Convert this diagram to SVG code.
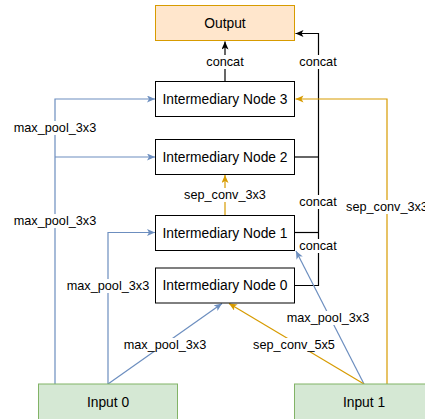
<svg xmlns="http://www.w3.org/2000/svg" width="425" height="419" viewBox="0 0 425 419">
<style>
.node{fill:#fff;stroke:#000;stroke-width:1}
.out{fill:#ffe6cc;stroke:#d79b00;stroke-width:1}
.in{fill:#d5e8d4;stroke:#82b366;stroke-width:1}
.nt{font-family:"Liberation Sans",Arial,sans-serif;font-size:13.8px;fill:#000;text-anchor:middle}
.lt{font-family:"Liberation Sans",Arial,sans-serif;font-size:12.7px;fill:#000;text-anchor:middle}
.bg{fill:#fff}
.k{fill:none;stroke:#000;stroke-width:1.2}
.b{fill:none;stroke:#6c8ebf;stroke-width:1.2}
.o{fill:none;stroke:#d79b00;stroke-width:1.2}
</style>
<defs>
<marker id="ak" markerUnits="userSpaceOnUse" markerWidth="10" markerHeight="10" refX="8" refY="3.5" orient="auto"><path d="M0,0 L8,3.5 L0,7 L2,3.5 Z" fill="#000"/></marker>
<marker id="ab" markerUnits="userSpaceOnUse" markerWidth="10" markerHeight="10" refX="8" refY="3.5" orient="auto"><path d="M0,0 L8,3.5 L0,7 L2,3.5 Z" fill="#6c8ebf"/></marker>
<marker id="ao" markerUnits="userSpaceOnUse" markerWidth="10" markerHeight="10" refX="8" refY="3.5" orient="auto"><path d="M0,0 L8,3.5 L0,7 L2,3.5 Z" fill="#d79b00"/></marker>
</defs>
<g id="connectors">
<path class="k" d="M225,81 V41.5" marker-end="url(#ak)"/>
<path class="k" d="M295,285.5 H318.5 V33.5 H295.5" marker-end="url(#ak)"/>
<path class="k" d="M295,157 H318.5"/>
<path class="k" d="M295,232.5 H318.5"/>
<path class="b" d="M55,384 V99 H155" marker-end="url(#ab)"/>
<path class="b" d="M55,157 H155" marker-end="url(#ab)"/>
<path class="b" d="M108,384 V232.5 H155" marker-end="url(#ab)"/>
<path class="b" d="M108,384 L222,303.5" marker-end="url(#ab)"/>
<path class="b" d="M364,384 L296,251" marker-end="url(#ab)"/>
<path class="o" d="M387,384 V99 H295.5" marker-end="url(#ao)"/>
<path class="o" d="M225,215 V175" marker-end="url(#ao)"/>
<path class="o" d="M364,384 L229,303.5" marker-end="url(#ao)"/>
<g id="labels">
<rect class="bg" x="206" y="55" width="38" height="14"/><text class="lt" x="225" y="62" dy="0.35em">concat</text>
<rect class="bg" x="299" y="55" width="38" height="14"/><text class="lt" x="318" y="62" dy="0.35em">concat</text>
<rect class="bg" x="299" y="195" width="38" height="14"/><text class="lt" x="318" y="202" dy="0.35em">concat</text>
<rect class="bg" x="299" y="239" width="38" height="14"/><text class="lt" x="318" y="246" dy="0.35em">concat</text>
<rect class="bg" x="13" y="121" width="84" height="14"/><text class="lt" x="55" y="128" dy="0.35em">max_pool_3x3</text>
<rect class="bg" x="13" y="214" width="84" height="14"/><text class="lt" x="55" y="221" dy="0.35em">max_pool_3x3</text>
<rect class="bg" x="66" y="279" width="84" height="14"/><text class="lt" x="108" y="286" dy="0.35em">max_pool_3x3</text>
<rect class="bg" x="123" y="338" width="84" height="14"/><text class="lt" x="165" y="345" dy="0.35em">max_pool_3x3</text>
<rect class="bg" x="286" y="311" width="84" height="14"/><text class="lt" x="328" y="318" dy="0.35em">max_pool_3x3</text>
<rect class="bg" x="184" y="188" width="83" height="14"/><text class="lt" x="225" y="195" dy="0.35em">sep_conv_3x3</text>
<rect class="bg" x="346" y="200" width="83" height="14"/><text class="lt" x="387" y="207" dy="0.35em">sep_conv_3x3</text>
<rect class="bg" x="253" y="338" width="83" height="14"/><text class="lt" x="294" y="345" dy="0.35em">sep_conv_5x5</text>
</g>
</g>
<g id="output"><rect class="out" x="155.5" y="5.5" width="139" height="35"/><text class="nt" x="225" y="23" dy="0.35em">Output</text></g>
<g id="node3"><rect class="node" x="155.5" y="81.5" width="139" height="35"/><text class="nt" x="225" y="99" dy="0.35em">Intermediary Node 3</text></g>
<g id="node2"><rect class="node" x="155.5" y="139.5" width="139" height="35"/><text class="nt" x="225" y="157" dy="0.35em">Intermediary Node 2</text></g>
<g id="node1"><rect class="node" x="155.5" y="215.5" width="139" height="35"/><text class="nt" x="225" y="233" dy="0.35em">Intermediary Node 1</text></g>
<g id="node0"><rect class="node" x="155.5" y="268" width="139" height="35"/><text class="nt" x="225" y="285.5" dy="0.35em">Intermediary Node 0</text></g>
<g id="input0"><rect class="in" x="38.5" y="384" width="139" height="36"/><text class="nt" x="108" y="402" dy="0.35em">Input 0</text></g>
<g id="input1"><rect class="in" x="294.5" y="384" width="139" height="36"/><text class="nt" x="364" y="402" dy="0.35em">Input 1</text></g>
</svg>
